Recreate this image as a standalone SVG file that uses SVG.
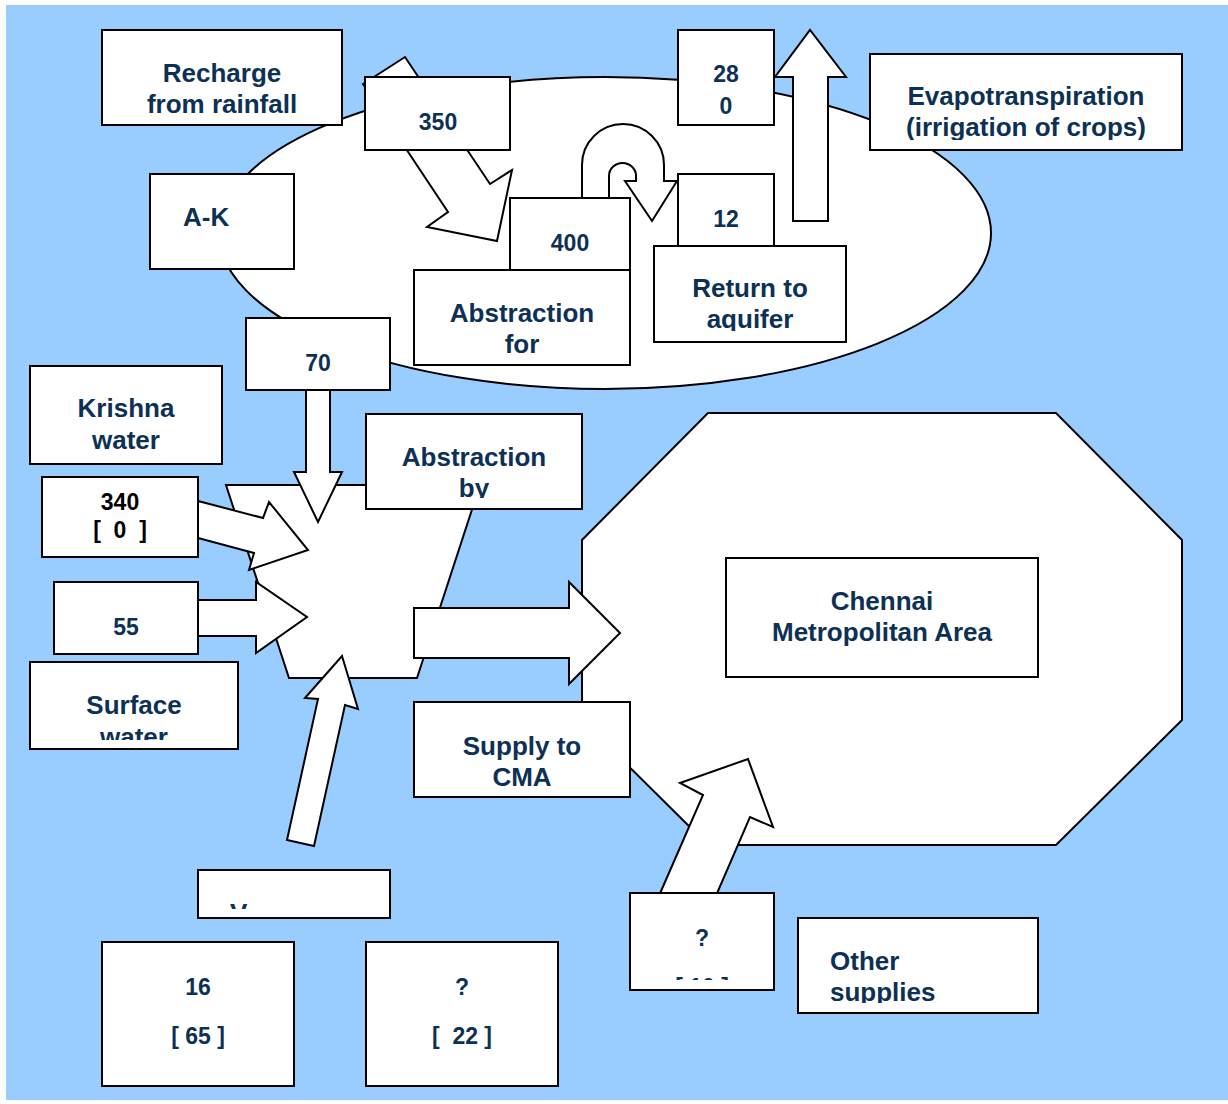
<svg xmlns="http://www.w3.org/2000/svg" width="1228" height="1104" viewBox="0 0 1228 1104">
  <style>
    .box { fill: #ffffff; stroke: #000000; stroke-width: 2; }
    .shape { fill: #ffffff; stroke: #000000; stroke-width: 2; }
    .flow { fill: #ffffff; stroke: #000000; stroke-width: 2; stroke-linejoin: miter; }
    .t { font-family: "Liberation Sans", Arial, Helvetica, sans-serif; font-weight: bold; font-size: 26px; fill: #0D3154; text-anchor: middle; }
    .n { font-size: 23px; }
    .k { fill: #000000; }
    .s { text-anchor: start; }
    .pre { white-space: pre; }
  </style>
  <defs>
    <clipPath id="clip-evap"><rect x="871" y="55" width="310" height="85"/></clipPath>
    <clipPath id="clip-return"><rect x="655" y="247" width="190" height="84"/></clipPath>
    <clipPath id="clip-absby"><rect x="367" y="415" width="214" height="83"/></clipPath>
    <clipPath id="clip-surface"><rect x="31" y="663" width="206" height="77"/></clipPath>
    <clipPath id="clip-other"><rect x="799" y="919" width="238" height="84"/></clipPath>
    <clipPath id="clip-v"><rect x="199" y="871" width="190" height="38"/></clipPath>
    <clipPath id="clip-q"><rect x="631" y="894" width="142" height="86"/></clipPath>
  </defs>

  <!-- backdrop -->
  <rect x="0" y="0" width="1228" height="1104" fill="#ffffff"/>
  <rect x="6" y="5" width="1222" height="1095" fill="#99CCFF"/>

  <!-- large region shapes -->
  <g id="aquifer-zone">
    <ellipse class="shape" cx="605" cy="233" rx="386" ry="156"/>
  </g>
  <g id="cma-zone">
    <polygon class="shape" points="708,413 1056,413 1182,540 1182,720 1056,845 708,845 582,720 582,540"/>
  </g>
  <g id="collection-node">
    <polygon class="shape" points="226,485 480,485 417,678 289,678"/>
  </g>

  <!-- flow arrows -->
  <g id="connectors">
    <!-- rainfall recharge into abstraction -->
    <polygon class="flow" points="363,84 405,57 490,184 512,170 497,241 427,227 448,212"/>
    <!-- return loop -->
    <path class="flow" d="M 582,199 L 582,165 A 41,41 0 0 1 664,165 L 664,181 L 677,181 L 652,221 L 625,181 L 636,181 L 636,176 A 13.5,13 0 0 0 609,176 L 609,199 Z"/>
    <!-- evapotranspiration -->
    <polygon class="flow" points="793,221 793,77 775,77 810,30 846,77 828,77 828,221"/>
    <!-- abstraction by A-K into collection -->
    <polygon class="flow" points="306,390 306,472 294,472 318,522 342,472 330,472 330,390"/>
    <!-- Krishna water -->
    <polygon class="flow" points="198,501 263,518 269,502 308,550 249,570 254,553 198,538"/>
    <!-- surface water -->
    <polygon class="flow" points="198,600 256,600 256,582 307,617 256,653 256,636 198,636"/>
    <!-- lower inflow -->
    <polygon class="flow" points="287,840 318,699 305,698 342,656 358,709 345,705 314,846"/>
    <!-- supply to CMA -->
    <polygon class="flow" points="414,608 569,608 569,582 620,633 569,684 569,658 414,658"/>
    <!-- other supplies -->
    <polygon class="flow" points="658,898 703,795 680,783 748,759 773,827 750,817 715,898"/>
  </g>

  <!-- labelled boxes -->
  <g id="recharge-label">
    <rect class="box" x="102" y="30" width="240" height="95"/>
    <text class="t" x="222" y="82">Recharge</text>
    <text class="t" x="222" y="113">from rainfall</text>
  </g>
  <g id="recharge-value">
    <rect class="box" x="365" y="77" width="145" height="73"/>
    <text class="t n" x="438" y="130">350</text>
  </g>
  <g id="ak-label">
    <rect class="box" x="150" y="174" width="144" height="95"/>
    <text class="t s" x="183" y="226">A-K</text>
  </g>
  <g id="et-value">
    <rect class="box" x="678" y="30" width="96" height="95"/>
    <text class="t n" x="726" y="82">28</text>
    <text class="t n" x="726" y="114">0</text>
  </g>
  <g id="et-label">
    <rect class="box" x="870" y="54" width="312" height="96"/>
    <g clip-path="url(#clip-evap)">
      <text class="t" x="1026" y="105">Evapotranspiration</text>
      <text class="t" x="1026" y="136">(irrigation of crops)</text>
    </g>
  </g>
  <g id="abstraction-value">
    <rect class="box" x="510" y="198" width="120" height="72"/>
    <text class="t n" x="570" y="251">400</text>
  </g>
  <g id="abstraction-label">
    <rect class="box" x="414" y="270" width="216" height="95"/>
    <text class="t" x="522" y="322">Abstraction</text>
    <text class="t" x="522" y="353">for</text>
  </g>
  <g id="return-value">
    <rect class="box" x="678" y="174" width="96" height="72"/>
    <text class="t n" x="726" y="227">12</text>
  </g>
  <g id="return-label">
    <rect class="box" x="654" y="246" width="192" height="96"/>
    <g clip-path="url(#clip-return)">
      <text class="t" x="750" y="297">Return to</text>
      <text class="t" x="750" y="328">aquifer</text>
    </g>
  </g>
  <g id="ak-abstraction-value">
    <rect class="box" x="246" y="318" width="144" height="72"/>
    <text class="t n" x="318" y="371">70</text>
  </g>
  <g id="krishna-label">
    <rect class="box" x="30" y="366" width="192" height="98"/>
    <text class="t" x="126" y="417">Krishna</text>
    <text class="t" x="126" y="449">water</text>
  </g>
  <g id="krishna-value">
    <rect class="box" x="42" y="477" width="156" height="80"/>
    <text class="t n k" x="120" y="510">340</text>
    <text class="t n k pre" x="120" y="538" xml:space="preserve">[  0  ]</text>
  </g>
  <g id="collection-label">
    <rect class="box" x="366" y="414" width="216" height="95"/>
    <g clip-path="url(#clip-absby)">
      <text class="t" x="474" y="466">Abstraction</text>
      <text class="t" x="474" y="497">by</text>
    </g>
  </g>
  <g id="surface-value">
    <rect class="box" x="54" y="582" width="144" height="72"/>
    <text class="t n" x="126" y="635">55</text>
  </g>
  <g id="surface-label">
    <rect class="box" x="30" y="662" width="208" height="87"/>
    <g clip-path="url(#clip-surface)">
      <text class="t" x="134" y="714">Surface</text>
      <text class="t" x="134" y="746">water</text>
    </g>
  </g>
  <g id="supply-label">
    <rect class="box" x="414" y="702" width="216" height="95"/>
    <text class="t" x="522" y="755">Supply to</text>
    <text class="t" x="522" y="786">CMA</text>
  </g>
  <g id="cma-label">
    <rect class="box" x="726" y="558" width="312" height="119"/>
    <text class="t" x="882" y="610">Chennai</text>
    <text class="t" x="882" y="641">Metropolitan Area</text>
  </g>
  <g id="lower-label">
    <rect class="box" x="198" y="870" width="192" height="48"/>
    <g clip-path="url(#clip-v)">
      <text class="t s" x="230" y="922">V</text>
    </g>
  </g>
  <g id="other-value">
    <rect class="box" x="630" y="893" width="144" height="97"/>
    <text class="t n" x="702" y="946">?</text>
    <g clip-path="url(#clip-q)">
      <text class="t n pre" x="702" y="995" xml:space="preserve">[ 10 ]</text>
    </g>
  </g>
  <g id="other-label">
    <rect class="box" x="798" y="918" width="240" height="95"/>
    <g clip-path="url(#clip-other)">
      <text class="t s" x="830" y="970">Other</text>
      <text class="t s" x="830" y="1001">supplies</text>
    </g>
  </g>
  <g id="lower-value-a">
    <rect class="box" x="102" y="942" width="192" height="144"/>
    <text class="t n" x="198" y="995">16</text>
    <text class="t n pre" x="198" y="1044" xml:space="preserve">[ 65 ]</text>
  </g>
  <g id="lower-value-b">
    <rect class="box" x="366" y="942" width="192" height="144"/>
    <text class="t n" x="462" y="995">?</text>
    <text class="t n pre" x="462" y="1044" xml:space="preserve">[  22 ]</text>
  </g>
</svg>
